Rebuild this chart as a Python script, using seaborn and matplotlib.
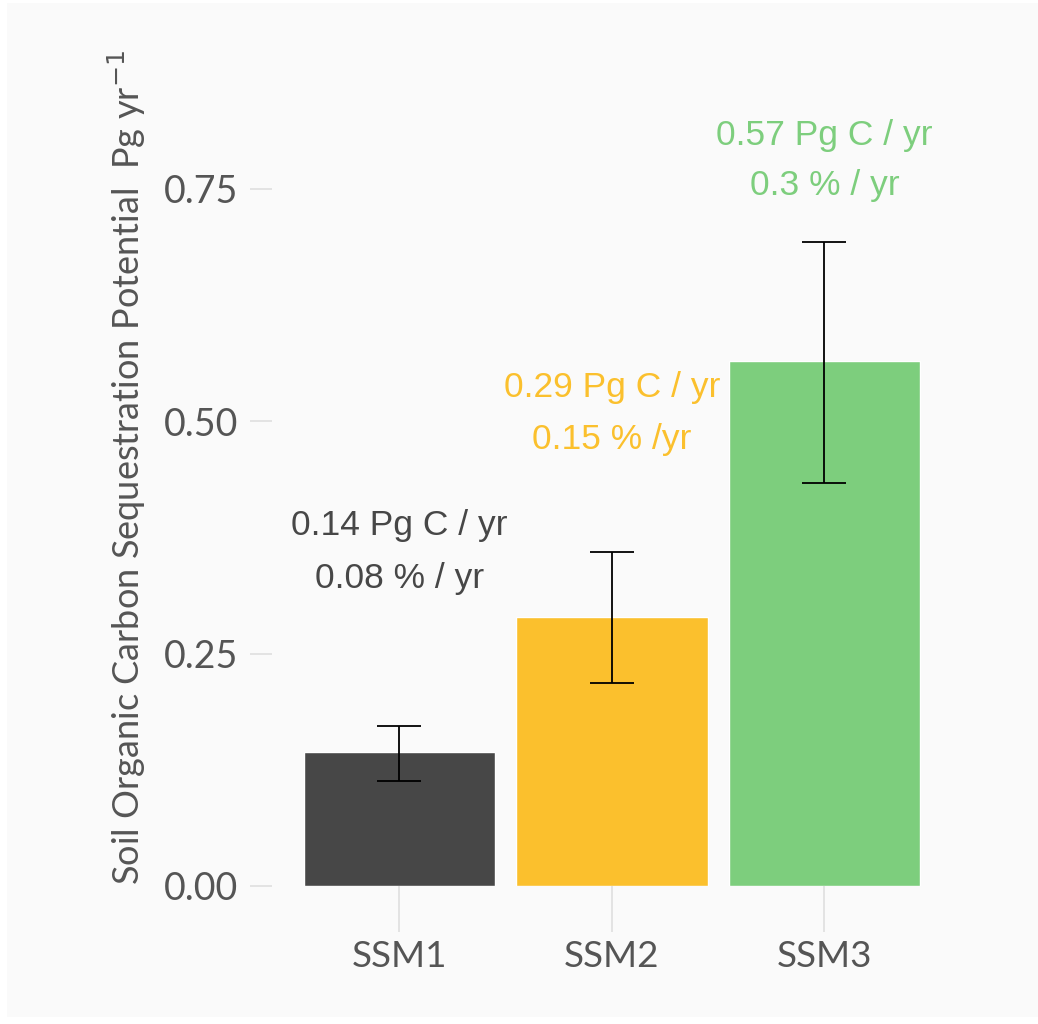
import pandas as pd
import matplotlib
matplotlib.use("Agg")
import matplotlib.pyplot as plt
import seaborn as sns
from matplotlib.patches import Rectangle

# data
scenarios = ["SSM1", "SSM2", "SSM3"]
potential = [0.144, 0.2895, 0.565]
err_low = [0.113, 0.2185, 0.434]
err_high = [0.172, 0.359, 0.693]
label_rate = ["0.14 Pg C / yr", "0.29 Pg C / yr", "0.57 Pg C / yr"]
label_pct = ["0.08 % / yr", "0.15 % /yr", "0.3 % / yr"]
bar_colors = ["#474747", "#fbc02d", "#7dce7d"]

df = pd.DataFrame({"scenario": scenarios, "potential": potential})

sns.set_theme(style="white")
plt.rcParams["font.family"] = ["Lato", "DejaVu Sans"]

fig = plt.figure(figsize=(10.38, 10.24), dpi=100, facecolor="white")
fig.patches.append(Rectangle((7 / 1038, 7 / 1024), 1 - 7 / 1038, 1 - 10 / 1024,
                             transform=fig.transFigure, facecolor="#fafafa",
                             edgecolor="none", zorder=-10))
ax = fig.add_axes([0.262, 0.1348, 0.655, 0.8168])
ax.set_facecolor("#fafafa")

sns.barplot(data=df, x="scenario", y="potential", hue="scenario",
            palette=bar_colors, width=0.9, errorbar=None, legend=False,
            saturation=1, ax=ax)

# error bars
yerr = [[p - lo for p, lo in zip(potential, err_low)],
        [hi - p for p, hi in zip(potential, err_high)]]
ax.errorbar(range(len(scenarios)), potential, yerr=yerr, fmt="none",
            ecolor="black", elinewidth=1.3, capsize=15.8, capthick=1.3, zorder=5)

# text labels above bars
label_y = [(0.388, 0.331), (0.536, 0.480), (0.808, 0.754)]
for i, (l1, l2) in enumerate(zip(label_rate, label_pct)):
    for txt, yy in zip((l1, l2), label_y[i]):
        ax.text(i, yy, txt, ha="center", va="center", fontsize=25.5,
                color=bar_colors[i], family=["Liberation Sans", "DejaVu Sans"])

ax.set_ylim(0, 0.9)
ax.set_xlim(-0.6, 2.6)
ax.set_yticks([0.0, 0.25, 0.5, 0.75])
ax.set_yticklabels(["0.00", "0.25", "0.50", "0.75"])
for s in ax.spines.values():
    s.set_visible(False)
ax.tick_params(axis="y", length=16, width=1.1, color="#dddddd", labelsize=27,
               labelcolor="#555555", pad=8, left=True)
ax.tick_params(axis="x", length=33, width=1.1, color="#dddddd", labelsize=26.5,
               labelcolor="#555555", pad=6, bottom=True)
ax.set_xlabel("")
ax.set_ylabel("Soil Organic Carbon Sequestration Potential  Pg yr$^{-1}$",
              fontsize=26, color="#555555", labelpad=12)

fig.savefig("out.png", dpi=100, facecolor=fig.get_facecolor())
